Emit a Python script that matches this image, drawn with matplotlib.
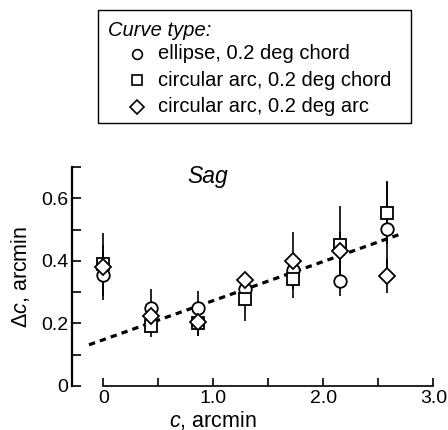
import matplotlib
matplotlib.use("Agg")
import matplotlib.pyplot as plt
from matplotlib.lines import Line2D
from matplotlib.patches import Rectangle
import numpy as np

plt.rcParams['font.family'] = ['Liberation Sans', 'DejaVu Sans']
plt.rcParams['mathtext.fontset'] = 'custom'
plt.rcParams['mathtext.rm'] = 'Liberation Sans'
plt.rcParams['mathtext.it'] = 'Liberation Sans:italic'

# ---- data ----
c_vals = [0.0, 0.43, 0.86, 1.29, 1.72, 2.15, 2.58]
ellipse_chord = [0.355, 0.250, 0.248, 0.310, 0.370, 0.337, 0.502]
ellipse_chord_err = [0.080, 0.060, 0.057, 0.050, 0.050, 0.050, 0.150]
arc_chord = [0.389, 0.192, 0.200, 0.277, 0.342, 0.451, 0.554]
arc_chord_err = [0.100, 0.035, 0.040, 0.070, 0.060, 0.125, 0.100]
arc_arc = [0.382, 0.225, 0.204, 0.339, 0.401, 0.433, 0.352]
arc_arc_err = [0.070, 0.040, 0.045, 0.027, 0.090, 0.060, 0.055]
fit_intercept = 0.148
fit_slope = 0.125
fit_range = [-0.13, 2.71]

series_labels = ["ellipse, 0.2 deg chord", "circular arc, 0.2 deg chord", "circular arc, 0.2 deg arc"]
series_markers = ["o", "s", "D"]
x_tick_positions = [0, 0.5, 1.0, 1.5, 2.0, 2.5, 3.0]
x_ticklabels = ["0", "", "1.0", "", "2.0", "", "3.0"]
y_tick_positions = [0, 0.1, 0.2, 0.3, 0.4, 0.5, 0.6, 0.7]
y_ticklabels = ["0", "", "0.2", "", "0.4", "", "0.6", ""]

W, H = 448, 430
fig = plt.figure(figsize=(W / 100, H / 100), dpi=100)

x0_px, ppu_x = 103.3, 110.0
xl, xr = -0.287, 3.1
y0_px, ppu_y = 386.0, 312.8
yb, yt = 0.0, 0.7
left = (x0_px + xl * ppu_x) / W
width = (xr - xl) * ppu_x / W
bottom = (H - y0_px) / H
height = (yt - yb) * ppu_y / H
ax = fig.add_axes([left, bottom, width, height])
ax.set_xlim(xl, xr)
ax.set_ylim(yb, yt)

# fit line
fx = np.array(fit_range)
ax.plot(fx, fit_intercept + fit_slope * fx, color='black', lw=2.3,
        linestyle=(0, (2.0, 1.6)), zorder=2)

sizes = [9.0, 8.5, 9.5]
for vals, errs in zip([ellipse_chord, arc_chord, arc_arc],
                      [ellipse_chord_err, arc_chord_err, arc_arc_err]):
    ax.errorbar(c_vals, vals, yerr=errs, fmt='none', ecolor='black', elinewidth=1.2,
                capsize=0, zorder=1)
for vals, m, ms in zip([ellipse_chord, arc_chord, arc_arc], series_markers, sizes):
    ax.plot(c_vals, vals, linestyle='none', marker=m, ms=ms if m != 'D' else ms * 0.85,
            mfc='white', mec='black', mew=1.3, zorder=3, clip_on=False)

for s in ['top', 'right']:
    ax.spines[s].set_visible(False)
ax.spines['left'].set_bounds(0, 0.7)
ax.spines['left'].set_linewidth(1.6)
ax.spines['bottom'].set_bounds(0, 3.0)
ax.spines['bottom'].set_linewidth(1.2)

ax.set_xticks(x_tick_positions)
ax.set_xticklabels(x_ticklabels)
ax.set_yticks(y_tick_positions)
ax.set_yticklabels(y_ticklabels)
ax.tick_params(axis='x', direction='in', length=6, width=1.2, pad=3, labelsize=14)
ax.tick_params(axis='y', direction='in', length=6.5, width=1.2, pad=2.5, labelsize=14)

fig.text(20 / W, 1 - 277 / H, r"$\Delta c$, arcmin", rotation=90, ha='center', va='center', fontsize=15.5)
fig.text(213 / W, 1 - 420 / H, r"$c$, arcmin", ha='center', va='center', fontsize=15.5)
fig.text(208 / W, 1 - 176 / H, "Sag", style='italic', ha='center', va='center', fontsize=16.5)

# legend box
fig.add_artist(Rectangle((98 / W, 1 - 123 / H), (411 - 98) / W, (123 - 10) / H,
                         transform=fig.transFigure, fill=False, ec='black', lw=1.0))
fig.text(108 / W, 1 - 31 / H, "Curve type:", style='italic', ha='left', va='center', fontsize=14.5)
for i, (lab, m) in enumerate(zip(series_labels, series_markers)):
    yc = 1 - (53.5 + 26.7 * i) / H
    fig.add_artist(Line2D([137 / W], [yc], transform=fig.transFigure, marker=m,
                          ms=7 if m != 'D' else 7.5, mfc='white', mec='black', mew=1.2, ls='none'))
    fig.text(158 / W, yc, lab, ha='left', va='center', fontsize=14.5)

fig.savefig("out.png", dpi=100)
